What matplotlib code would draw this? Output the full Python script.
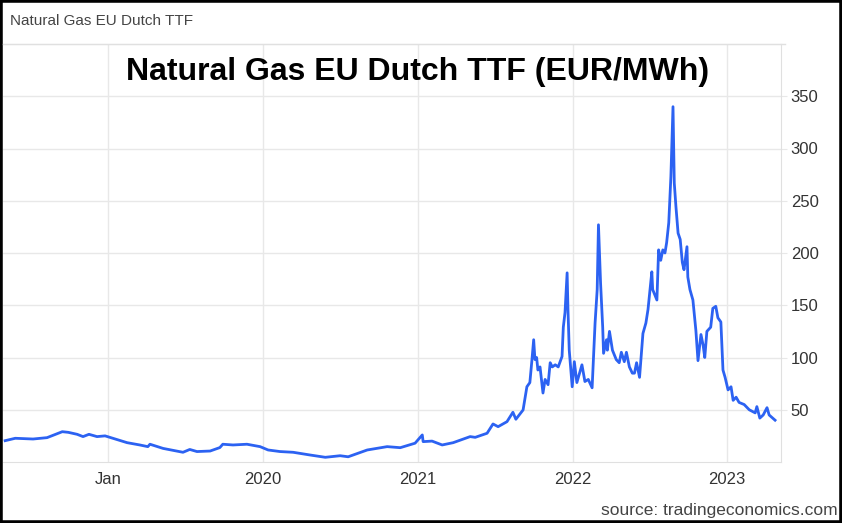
import pandas as pd
import matplotlib
matplotlib.use("Agg")
import matplotlib.pyplot as plt
import matplotlib.patches as patches

plt.rcParams['font.family'] = ['Liberation Sans', 'DejaVu Sans']

## Data (EUR/MWh)

dates = [
    "2018-05-02", "2018-05-26", "2018-07-07", "2018-08-09", "2018-09-14", "2018-09-28",
    "2018-10-19", "2018-11-02", "2018-11-16", "2018-12-05", "2018-12-24",
    "2019-01-17", "2019-02-14", "2019-03-16", "2019-04-04", "2019-04-09", "2019-05-10",
    "2019-06-26", "2019-07-12", "2019-07-29", "2019-08-29", "2019-09-21", "2019-09-28",
    "2019-10-22", "2019-11-24", "2019-12-25",
    "2020-01-13", "2020-02-10", "2020-03-12", "2020-04-21", "2020-05-27", "2020-07-01",
    "2020-07-20", "2020-08-17", "2020-09-03", "2020-10-20", "2020-11-20", "2020-12-25",
    "2021-01-11", "2021-01-13", "2021-02-03", "2021-02-27", "2021-03-25", "2021-05-04",
    "2021-05-16", "2021-06-13", "2021-06-27", "2021-07-09", "2021-07-30", "2021-08-13",
    "2021-08-20", "2021-09-06", "2021-09-15", "2021-09-22", "2021-09-27", "2021-10-01",
    "2021-10-04", "2021-10-08", "2021-10-11", "2021-10-16", "2021-10-23", "2021-10-28",
    "2021-11-04", "2021-11-09", "2021-11-14", "2021-11-21", "2021-11-28", "2021-12-07",
    "2021-12-10", "2021-12-14", "2021-12-19", "2021-12-21", "2021-12-24", "2021-12-31",
    "2022-01-05", "2022-01-11", "2022-01-23", "2022-01-30", "2022-02-07", "2022-02-16",
    "2022-02-23", "2022-02-28", "2022-03-03", "2022-03-08", "2022-03-13", "2022-03-15",
    "2022-03-22", "2022-03-24", "2022-03-29", "2022-04-05", "2022-04-14", "2022-04-21",
    "2022-04-26", "2022-05-03", "2022-05-08", "2022-05-15", "2022-05-22", "2022-05-27",
    "2022-06-01", "2022-06-08", "2022-06-16", "2022-06-23", "2022-06-28", "2022-07-07",
    "2022-07-09", "2022-07-19", "2022-07-23", "2022-07-28", "2022-08-02", "2022-08-07",
    "2022-08-11", "2022-08-16", "2022-08-21", "2022-08-26", "2022-08-29", "2022-09-02",
    "2022-09-07", "2022-09-12", "2022-09-17", "2022-09-21", "2022-09-28", "2022-09-30",
    "2022-10-05", "2022-10-12", "2022-10-19", "2022-10-24", "2022-10-31", "2022-11-05",
    "2022-11-09", "2022-11-14", "2022-11-23", "2022-11-28", "2022-12-05", "2022-12-10",
    "2022-12-17", "2022-12-22", "2022-12-27",
    "2023-01-03", "2023-01-10", "2023-01-15", "2023-01-22", "2023-01-29", "2023-02-10",
    "2023-02-22", "2023-03-08", "2023-03-12", "2023-03-19", "2023-03-27", "2023-04-05",
    "2023-04-10", "2023-04-24",
]

prices = [
    20.4, 22.7, 22.0, 23.3, 29.0, 28.4,
    26.5, 24.3, 26.5, 24.3, 25.0,
    22.0, 18.5, 16.3, 14.7, 17.0, 13.0,
    9.3, 12.0, 10.0, 10.5, 13.8, 17.0,
    16.3, 17.0, 14.7,
    11.5, 10.0, 9.3, 6.7, 4.5, 6.0,
    5.0, 9.0, 11.5, 14.7, 13.7, 18.0,
    25.9, 19.5, 20.0, 16.3, 18.5, 24.3,
    23.6, 27.5, 36.4, 33.8, 38.6, 47.6,
    40.9, 49.8, 72.0, 76.0, 98.0, 117.0,
    98.0, 100.0, 88.0, 91.0, 66.0, 79.0,
    74.0, 95.0, 91.0, 93.0, 91.0, 101.0,
    129.0, 143.0, 181.0, 146.0, 107.0, 72.0,
    96.0, 76.0, 93.0, 77.0, 79.0, 71.0,
    133.0, 165.0, 227.0, 171.0, 129.0, 104.0,
    117.0, 107.0, 125.0, 107.0, 98.0, 95.0,
    105.0, 96.0, 105.0, 91.0, 85.0, 85.0,
    95.0, 81.0, 123.0, 133.0, 146.0, 182.0,
    165.0, 155.0, 203.0, 193.0, 203.0, 200.0,
    210.0, 229.0, 273.0, 340.0, 267.0, 244.0,
    219.0, 213.0, 191.0, 184.0, 206.0, 177.0,
    165.0, 155.0, 126.0, 97.0, 122.0, 112.0,
    100.0, 125.0, 129.0, 147.0, 149.0, 138.0,
    134.0, 88.0, 81.0,
    69.0, 72.0, 59.0, 62.0, 57.0, 55.0,
    50.0, 47.0, 53.0, 42.0, 45.0, 52.0,
    45.0, 40.0,
]

tick_dates = ["2019-01-01", "2020-01-01", "2021-01-01", "2022-01-01", "2023-01-01"]
tick_labels = ["Jan", "2020", "2021", "2022", "2023"]
y_ticks = [50, 100, 150, 200, 250, 300, 350]

ttf = pd.Series(prices, index=pd.to_datetime(dates))

## Figure

fig = plt.figure(figsize=(8.42, 5.23), dpi=100)
ax = fig.add_axes([3 / 842, 61 / 523, 778 / 842, 418 / 523])

ax.plot(ttf.index, ttf.values, color="#2c62f2", linewidth=2.0)

ax.set_xlim(pd.Timestamp("2018-04-27"), pd.Timestamp("2023-05-08"))
ax.set_ylim(0, 400)

ax.set_xticks(pd.to_datetime(tick_dates))
ax.set_xticklabels(tick_labels)
ax.set_yticks(y_ticks)
ax.yaxis.tick_right()

ax.grid(True, color="#e8e8e8", linewidth=1)
ax.set_axisbelow(True)
ax.tick_params(axis="x", length=0, pad=7, labelsize=12, labelcolor="#333333")
ax.tick_params(axis="y", length=4, color="#e8e8e8", pad=3, labelsize=12, labelcolor="#333333")

for side in ["top", "right", "bottom"]:
    ax.spines[side].set_color("#e0e0e0")
ax.spines["left"].set_visible(False)

## Texts

fig.text(10 / 842, 1 - 21 / 523, "Natural Gas EU Dutch TTF", fontsize=11,
         color="#444444", va="center", ha="left")
fig.text(418 / 842, 1 - 72 / 523, "Natural Gas EU Dutch TTF (EUR/MWh)", fontsize=23,
         fontweight="bold", color="black", va="center", ha="center")
fig.text(838 / 842, 1 - 510 / 523, "source: tradingeconomics.com", fontsize=12.5,
         color="#444444", va="center", ha="right")

# line under the header
fig.add_artist(plt.Line2D([3 / 842, 785 / 842], [1 - 44 / 523, 1 - 44 / 523],
                          color="#e0e0e0", linewidth=1))

# black frame around the whole picture
fig.add_artist(patches.Rectangle((0, 0), 1, 1, transform=fig.transFigure,
                                 fill=False, edgecolor="black", linewidth=4))

fig.savefig("out.png", dpi=100)
